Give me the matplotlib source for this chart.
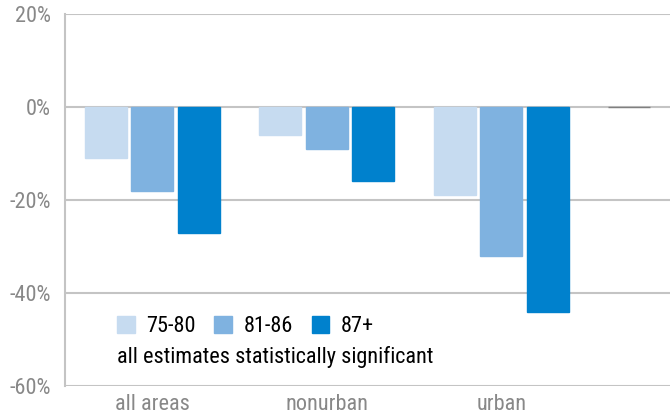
import numpy as np
import matplotlib.pyplot as plt
from matplotlib.patches import Patch

categories = ['all areas', 'nonurban', 'urban', '']
series = ['75-80', '81-86', '87+']
v_75_80 = [-11, -6, -19, 0]
v_81_86 = [-18, -9, -32, np.nan]
v_87 = [-27, -16, -44, np.nan]
colors = ['#c6dbf0', '#7fb2e0', '#0081cd']
note = 'all estimates statistically significant'

plt.rcParams['font.family'] = ['Roboto Condensed', 'DejaVu Sans']

fig = plt.figure(figsize=(6.7, 4.18), dpi=100)
ax = fig.add_axes([0.097, 0.0766, 1.042, 0.8899])

x = np.arange(len(categories))
step = 0.266
width = 0.24
for i, (vals, c) in enumerate(zip([v_75_80, v_81_86, v_87], colors)):
    edges = ['#7f7f7f' if v == 0 else c for v in vals]
    ax.bar(x + (i - 1) * step, vals, width, color=c, edgecolor=edges,
           linewidth=1, zorder=3)

ax.set_xlim(-0.5, 3.5)
ax.set_ylim(-60, 20)
ax.set_yticks(np.arange(-60, 21, 20))
ax.set_yticklabels([f'{t}%' for t in range(-60, 21, 20)])
ax.set_xticks(x)
ax.set_xticklabels(categories)
ax.tick_params(axis='both', length=0, labelsize=16, labelcolor='#888888')
ax.tick_params(axis='y', pad=10)
ax.tick_params(axis='x', pad=6)
ax.yaxis.grid(True, color='#c4c4c4', linewidth=1.5, zorder=0)
ax.set_axisbelow(True)
for s in ['top', 'right', 'bottom']:
    ax.spines[s].set_visible(False)
ax.spines['left'].set_color('#c4c4c4')
ax.spines['left'].set_linewidth(1.5)

handles = [Patch(color=c) for c in colors]
ax.legend(handles, series, ncol=3, loc='upper left', bbox_to_anchor=(0.062, 0.213),
          frameon=False, fontsize=16, handlelength=0.8, handleheight=0.8,
          handletextpad=0.5, columnspacing=0.85, borderaxespad=0)
ax.text(0.074, 0.077, note, transform=ax.transAxes, fontsize=16, va='center')

fig.savefig('out.png', dpi=100)
